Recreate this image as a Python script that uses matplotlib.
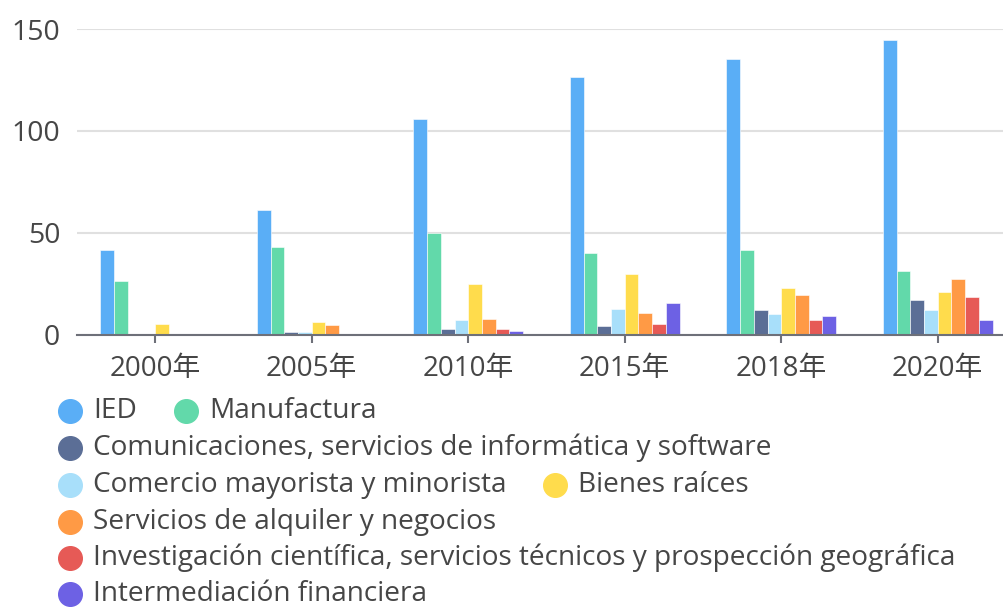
import numpy as np
import matplotlib.pyplot as plt
from matplotlib.lines import Line2D

plt.rcParams['font.family'] = ['Open Sans', 'Noto Sans CJK SC', 'DejaVu Sans']

years = ['2000年', '2005年', '2010年', '2015年', '2018年', '2020年']
series_names = [
    'IED',
    'Manufactura',
    'Comunicaciones, servicios de informática y software',
    'Comercio mayorista y minorista',
    'Bienes raíces',
    'Servicios de alquiler y negocios',
    'Investigación científica, servicios técnicos y prospección geográfica',
    'Intermediación financiera',
]
ied = [41.5, 61, 106, 126.5, 135.5, 144.5]
manufactura = [26.5, 43, 50, 40, 41.7, 31.4]
comunicaciones = [0, 1.5, 2.9, 4.2, 12.2, 16.8]
comercio = [0, 1.3, 7.1, 12.5, 10.2, 12.2]
bienes = [5.4, 6, 24.6, 29.6, 22.9, 20.8]
alquiler = [0, 4.6, 7.6, 10.6, 19.4, 27.2]
investigacion = [0, 0.5, 2.6, 5, 7.3, 18.5]
financiera = [0.3, 0.5, 1.8, 15.4, 9.3, 7]
all_series = [ied, manufactura, comunicaciones, comercio, bienes, alquiler, investigacion, financiera]
colors = ['#5aaef6', '#62d9aa', '#5b6e96', '#a8dffa', '#ffdc4c', '#ff9a45', '#e65a56', '#6d61e4']

W, H = 1004, 610
fig = plt.figure(figsize=(W / 100, H / 100), dpi=100)
ax = fig.add_axes([77 / W, (H - 334.6) / H, 939 / W, (334.6 - 29) / H])

x = np.arange(len(years))
bw = 0.0875
for i, (vals, c) in enumerate(zip(all_series, colors)):
    ax.bar(x + (i - 3.5) * bw, vals, width=bw, color=c, edgecolor='white', linewidth=0.4, zorder=3)

ax.set_xlim(-0.5, len(years) - 0.5)
ax.set_ylim(0, 150)
ax.set_yticks([0, 50, 100, 150])
ax.set_xticks(x)
ax.set_xticklabels(years)
ax.grid(axis='y', color='#e0e0e0', linewidth=1.5, zorder=0)
for s in ['top', 'right', 'left']:
    ax.spines[s].set_visible(False)
ax.spines['bottom'].set_color('#6e7079')
ax.spines['bottom'].set_linewidth(1.5)
ax.spines['bottom'].set_zorder(4)
ax.tick_params(axis='y', length=0, pad=12, labelsize=20.5, labelcolor='#464646')
ax.tick_params(axis='x', length=6, width=1.5, color='#6e7079', pad=9, labelsize=20, labelcolor='#464646')

# legend rows drawn by hand to follow the wrapped layout
rows = [
    [(0, 70, 411), (1, 186, 411)],
    [(2, 70, 448)],
    [(3, 70, 485)],
    [(4, 555, 485)],
    [(5, 70, 522)],
    [(6, 70, 558)],
    [(7, 70, 594)],
]
for row in rows:
    for idx, cx, cy in row:
        fig.add_artist(Line2D([cx / W], [1 - cy / H], marker='o', markersize=17, color=colors[idx],
                              linestyle='none', transform=fig.transFigure))
        fig.text((cx + 23) / W, 1 - cy / H, series_names[idx], fontsize=20.2, color='#464646',
                 va='center', ha='left')

fig.savefig('out.png', dpi=100)
